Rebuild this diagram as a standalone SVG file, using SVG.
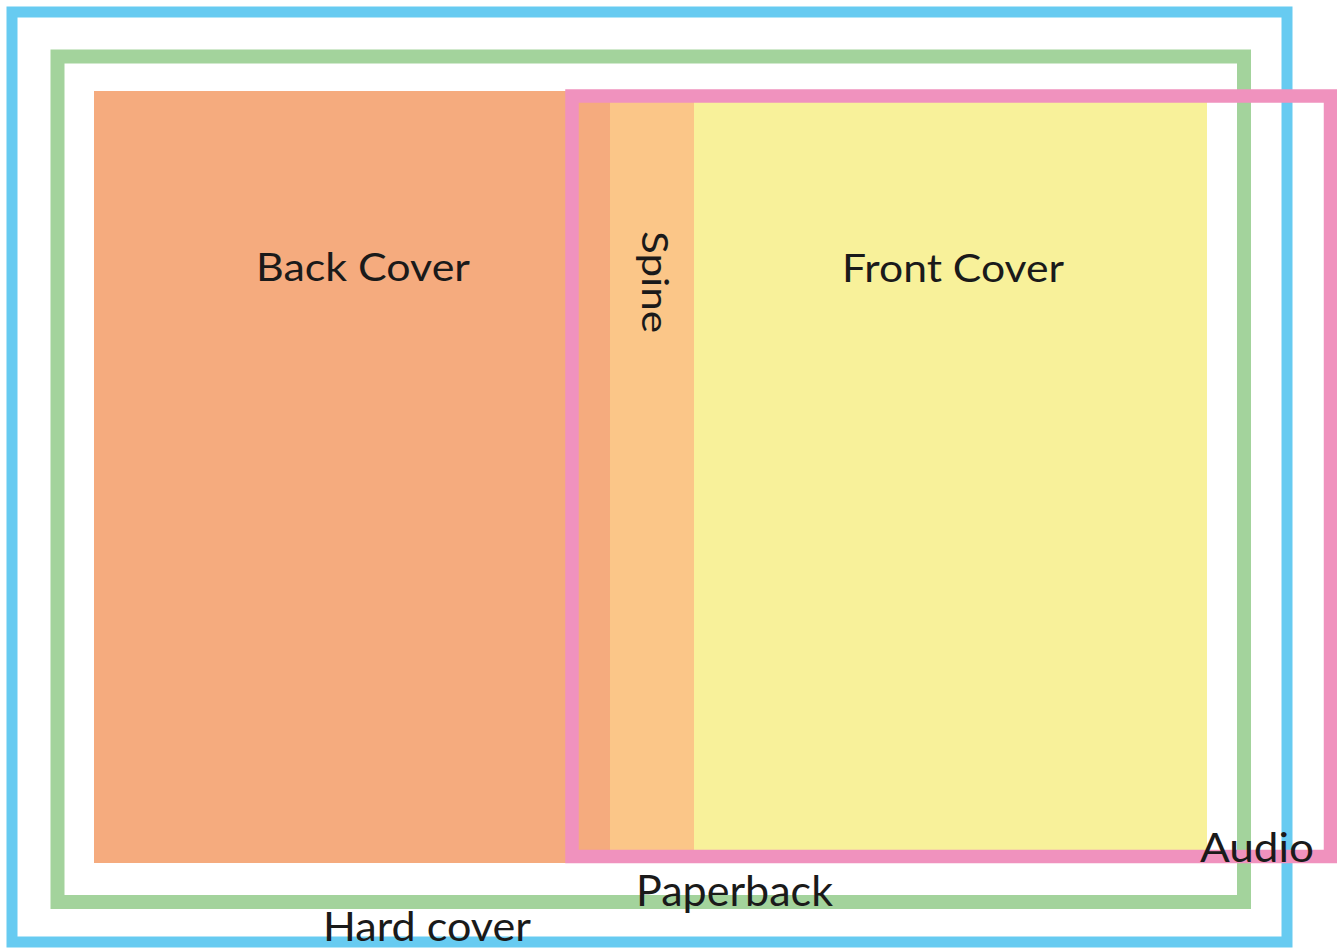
<svg xmlns="http://www.w3.org/2000/svg" width="1337" height="948" viewBox="0 0 1337 948">
<style>
.lbl{font-family:Lato,"Noto Sans","Liberation Sans",sans-serif;fill:#1a1a1a;}
.frame{fill:none;}
</style>
<rect x="0" y="0" width="1337" height="948" fill="#ffffff"/>
<g id="hard-cover">
<rect class="frame" x="12" y="12" width="1275" height="930" stroke="#67CBF1" stroke-width="11"/>
</g>
<g id="paperback">
<rect class="frame" x="57.5" y="56.5" width="1186.5" height="845.5" stroke="#A3D39C" stroke-width="14"/>
</g>
<g id="back-cover">
<rect x="94" y="91" width="517" height="772" fill="#F5AB7E"/>
<text class="lbl" x="256" y="281" font-size="39" textLength="214" lengthAdjust="spacingAndGlyphs">Back Cover</text>
</g>
<g id="spine">
<rect x="610" y="96" width="84" height="760" fill="#FBC688"/>
<text class="lbl" transform="translate(642,231) rotate(90)" font-size="36" textLength="102" lengthAdjust="spacingAndGlyphs">Spine</text>
</g>
<g id="front-cover">
<rect x="694" y="96" width="513" height="760" fill="#F8F19A"/>
<text class="lbl" x="842" y="282" font-size="39" textLength="222" lengthAdjust="spacingAndGlyphs">Front Cover</text>
</g>
<g id="audio">
<rect class="frame" x="572" y="96" width="758.5" height="760.5" stroke="#F092BE" stroke-width="13.5"/>
</g>
<g id="labels">
<text class="lbl" x="1200" y="862" font-size="40" textLength="114" lengthAdjust="spacingAndGlyphs">Audio</text>
<text class="lbl" x="636" y="906" font-size="42" textLength="197" lengthAdjust="spacingAndGlyphs">Paperback</text>
<text class="lbl" x="323" y="941" font-size="41" textLength="208" lengthAdjust="spacingAndGlyphs">Hard cover</text>
</g>
</svg>
